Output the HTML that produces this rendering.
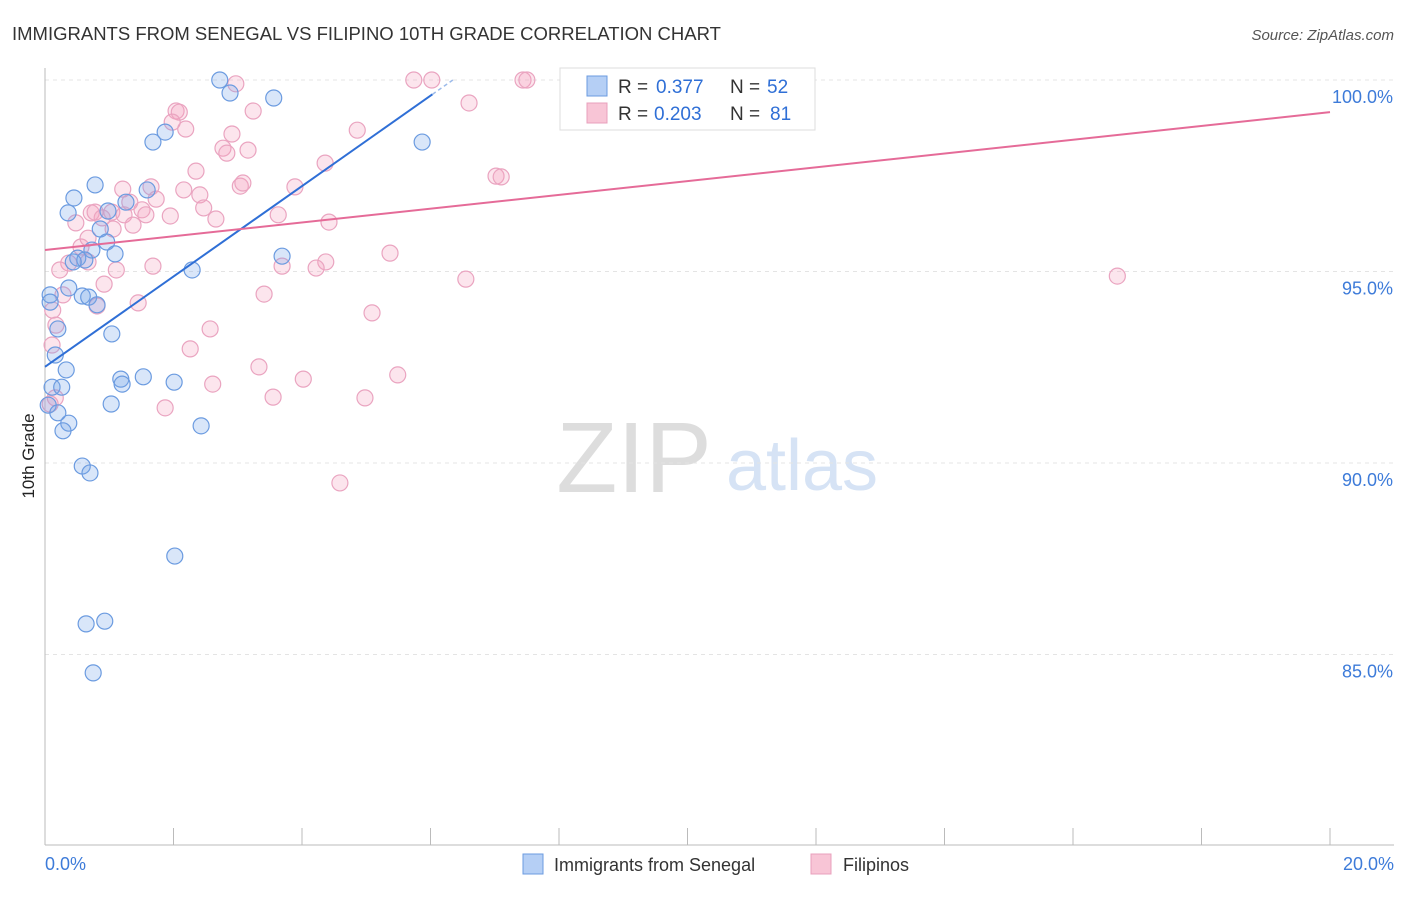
<!DOCTYPE html>
<html><head><meta charset="utf-8"><style>
body{margin:0;background:#fff;font-family:"Liberation Sans",sans-serif;}
svg text{font-family:"Liberation Sans",sans-serif;}
</style></head><body>
<svg id="c" width="1406" height="892" xmlns="http://www.w3.org/2000/svg">
<text x="12" y="40" font-size="18.5" fill="#333">IMMIGRANTS FROM SENEGAL VS FILIPINO 10TH GRADE CORRELATION CHART</text>
<text x="1394" y="40" font-size="15" fill="#555" text-anchor="end" font-style="italic">Source: ZipAtlas.com</text>
<text x="34" y="456" font-size="17" fill="#222" transform="rotate(-90 34 456)" text-anchor="middle">10th Grade</text>
<g><text x="634" y="492" font-size="100" fill="#ddd" font-family="Liberation Serif" text-anchor="middle">ZIP</text><text x="802" y="490" font-size="72" fill="#d6e3f5" text-anchor="middle">atlas</text></g>
<g id="grid"></g><g id="axes"></g><g id="pts"></g><g id="lines"></g>
<g>
<rect x="560" y="68" width="255" height="62" fill="#fff" stroke="#ddd"/>
<rect x="587" y="76" width="20" height="20" fill="#b5cff5" stroke="#6b9be0"/>
<rect x="587" y="103" width="20" height="20" fill="#f8c5d6" stroke="#e8a0bc"/>
<text x="618" y="93" font-size="19" fill="#333">R =</text>
<text x="656" y="93" font-size="19" fill="#2f6fd6">0.377</text>
<text x="730" y="93" font-size="19" fill="#333">N =</text>
<text x="767" y="93" font-size="19" fill="#2f6fd6">52</text>
<text x="618" y="120" font-size="19" fill="#333">R =</text>
<text x="654" y="120" font-size="19" fill="#2f6fd6">0.203</text>
<text x="730" y="120" font-size="19" fill="#333">N =</text>
<text x="770" y="120" font-size="19" fill="#2f6fd6">81</text>
</g>
<g>
<rect x="523" y="854" width="20" height="20" fill="#b5cff5" stroke="#6b9be0"/>
<text x="554" y="871" font-size="18" fill="#333">Immigrants from Senegal</text>
<rect x="811" y="854" width="20" height="20" fill="#f8c5d6" stroke="#e8a0bc"/>
<text x="843" y="871" font-size="18" fill="#333">Filipinos</text>
</g>
</svg>
<script>
const blueX=[2.72,2.88,3.56,1.87,1.68,5.87,0.78,0.45,1.59,0.36,1.26,0.98,0.86,0.96,0.73,1.09,0.51,0.62,0.44,2.29,3.69,0.08,0.37,0.58,0.68,0.81,0.20,1.04,0.16,0.33,1.18,1.53,1.20,2.01,0.11,0.26,1.03,0.05,0.20,0.37,0.28,2.43,0.58,0.70,2.02,0.64,0.93,0.75,0.08];
const blueY=[100,99.66,99.53,98.64,98.38,98.38,97.26,96.92,97.13,96.53,96.81,96.58,96.11,95.77,95.56,95.46,95.35,95.30,95.25,95.04,95.40,94.39,94.57,94.36,94.33,94.13,93.50,93.37,92.82,92.43,92.19,92.25,92.06,92.11,91.98,91.98,91.54,91.51,91.31,91.04,90.84,90.97,89.92,89.74,87.57,85.80,85.87,84.52,94.20];
const pinkX=[2.97,5.74,6.02,7.44,7.50,11.75,2.04,2.09,1.98,3.24,6.60,2.19,2.91,4.86,2.77,2.83,3.16,4.36,2.35,1.21,1.65,3.04,3.08,2.16,3.89,2.41,1.32,1.04,1.73,1.51,7.02,7.10,0.72,1.23,0.89,1.57,2.47,1.95,3.63,4.42,2.66,0.48,1.37,1.06,0.56,0.67,0.37,0.23,3.69,4.37,4.22,5.37,1.68,1.11,6.55,16.69,0.92,0.28,3.41,1.45,0.81,0.12,0.17,5.09,2.57,0.11,2.26,3.33,2.61,4.02,5.49,3.55,4.98,1.87,0.16,0.08,4.59,0.67,0.78];
const pinkY=[99.90,100,100,100,100,100,99.19,99.16,98.90,99.19,99.40,98.72,98.59,98.69,98.22,98.09,98.17,97.83,97.62,97.15,97.21,97.23,97.31,97.13,97.21,97.00,96.81,96.55,96.89,96.61,97.49,97.47,96.53,96.48,96.40,96.48,96.66,96.45,96.48,96.29,96.37,96.27,96.21,96.11,95.64,95.25,95.22,95.04,95.14,95.25,95.09,95.48,95.14,95.04,94.80,94.88,94.67,94.39,94.41,94.18,94.10,93.99,93.60,93.92,93.50,93.08,92.98,92.51,92.06,92.19,92.30,91.72,91.70,91.44,91.70,91.54,89.48,95.87,96.55];
const yTicks=[100,95,90,85];
const yTickLabels=["100.0%","95.0%","90.0%","85.0%"];
const blueTrend=[92.51,1.18]; // intercept, slope
const pinkTrend=[95.56,0.18];
const NS="http://www.w3.org/2000/svg";
const sx=v=>45+v*64.25, sy=v=>80+(100-v)*38.3;
function mk(t,a,p){const e=document.createElementNS(NS,t);for(const k in a)e.setAttribute(k,a[k]);p.appendChild(e);return e;}
const grid=document.getElementById('grid'),axes=document.getElementById('axes'),pts=document.getElementById('pts'),lines=document.getElementById('lines');
yTicks.forEach((t,i)=>{
 const g=mk('line',{x1:45,x2:1394,y1:sy(t),y2:sy(t),stroke:'#e4e4e4','stroke-dasharray':'4,4'},grid);
 
 
 const tx=mk('text',{x:1393,y:sy(t)+23,'font-size':18,fill:'#3d7bd9','text-anchor':'end'},grid);
 tx.textContent=yTickLabels[i];
 
 
});
mk('line',{x1:45,x2:45,y1:68,y2:845,stroke:'#bbb'},axes);
mk('line',{x1:45,x2:1394,y1:845,y2:845,stroke:'#bbb'},axes);
for(let i=0;i<=10;i++){const l=mk('line',{x1:sx(i*2),x2:sx(i*2),y1:828,y2:845,stroke:'#bbb'},axes);
 
 }
const x0=mk('text',{x:45,y:870,'font-size':18,fill:'#3d7bd9'},axes);x0.textContent='0.0%';


const x1=mk('text',{x:1394,y:870,'font-size':18,fill:'#3d7bd9','text-anchor':'end'},axes);x1.textContent='20.0%';


pinkX.forEach((x,i)=>{const c=mk('circle',{cx:sx(x),cy:sy(pinkY[i]),r:8,fill:'rgba(244,160,192,0.28)',stroke:'#eaa4c0','stroke-width':1.2},pts);
 
 });
blueX.forEach((x,i)=>{const c=mk('circle',{cx:sx(x),cy:sy(blueY[i]),r:8,fill:'rgba(120,165,235,0.28)',stroke:'#6b9be0','stroke-width':1.2},pts);
 
 });
const bEnd=(100-blueTrend[0])/blueTrend[1], bSolid=bEnd*0.95;
const bl=mk('line',{x1:sx(0),y1:sy(blueTrend[0]),x2:sx(bSolid),y2:sy(blueTrend[0]+blueTrend[1]*bSolid),stroke:'#2f6fd6','stroke-width':2},lines);


const bd=mk('line',{x1:sx(bSolid),y1:sy(blueTrend[0]+blueTrend[1]*bSolid),x2:sx(bEnd),y2:sy(100),stroke:'#9dbbea','stroke-width':1.5,'stroke-dasharray':'4,3'},lines);


const pl=mk('line',{x1:sx(0),y1:sy(pinkTrend[0]),x2:sx(20),y2:sy(pinkTrend[0]+pinkTrend[1]*20),stroke:'#e56b98','stroke-width':2},lines);


</script>
</body></html>
